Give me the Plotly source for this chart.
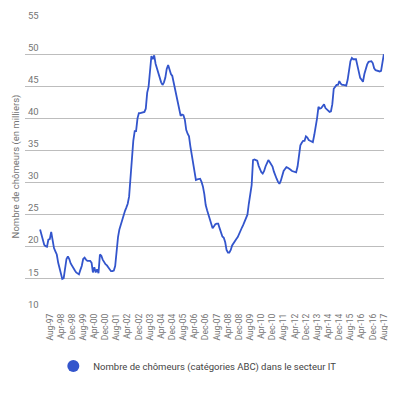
import pandas as pd
import plotly.graph_objects as go

SERIES_NAME = "Nombre de chômeurs (catégories ABC) dans le secteur IT"
Y_TITLE = "Nombre de chômeurs (en milliers)"
START_MONTH = "1997-01-01"

# monthly values (thousands), Jan-97 .. Aug-17
V1997 = [22.7, 22.0, 21.0, 20.3, 20.1, 20.0, 21.1, 21.2, 22.3, 21.0, 19.8, 19.3]
V1998 = [18.8, 17.5, 16.8, 16.0, 15.0, 15.1, 16.8, 18.1, 18.5, 18.1, 17.4, 17.1]
V1999 = [16.8, 16.3, 16.0, 15.8, 15.7, 16.4, 17.0, 18.1, 18.3, 18.0, 17.8, 17.8]
V2000 = [17.8, 17.5, 16.0, 16.8, 16.0, 16.5, 15.9, 18.8, 18.6, 18.0, 17.6, 17.3]
V2001 = [17.1, 16.8, 16.5, 16.2, 16.2, 16.3, 17.0, 19.6, 21.5, 22.7, 23.5, 24.0]
V2002 = [25.0, 25.6, 26.1, 26.7, 27.8, 30.7, 34.0, 36.5, 38.0, 38.0, 40.0, 40.8]
V2003 = [40.8, 40.9, 40.9, 41.0, 41.5, 44.0, 44.9, 47.5, 49.7, 49.2, 49.8, 48.5]
V2004 = [47.7, 46.9, 46.2, 45.6, 45.2, 45.6, 46.3, 47.7, 48.3, 47.6, 46.9, 46.6]
V2005 = [45.5, 44.5, 43.5, 42.6, 41.0, 40.4, 40.6, 40.5, 39.8, 38.2, 37.6, 37.2]
V2006 = [35.6, 34.1, 32.7, 31.6, 30.4, 30.5, 30.6, 30.6, 30.1, 29.4, 28.2, 26.5]
V2007 = [25.7, 24.9, 24.2, 23.6, 22.9, 23.2, 23.5, 23.6, 23.6, 22.9, 22.1, 21.6]
V2008 = [21.4, 20.7, 19.5, 19.1, 19.1, 19.5, 20.2, 20.6, 21.0, 21.2, 21.5, 22.1]
V2009 = [22.6, 23.0, 23.4, 24.0, 24.5, 25.0, 26.7, 28.3, 29.6, 33.5, 33.6, 33.5]
V2010 = [33.4, 32.6, 32.1, 31.6, 31.4, 31.8, 32.5, 33.0, 33.5, 33.2, 32.9, 32.5]
V2011 = [31.7, 31.0, 30.6, 30.1, 29.8, 30.3, 31.1, 31.8, 32.1, 32.4, 32.3, 32.2]
V2012 = [32.0, 31.8, 31.7, 31.6, 31.6, 32.5, 34.5, 35.8, 36.2, 36.5, 36.5, 37.2]
V2013 = [37.0, 36.6, 36.5, 36.4, 36.3, 37.4, 38.6, 40.0, 41.8, 41.5, 41.6, 42.0]
V2014 = [42.2, 41.6, 41.4, 41.3, 41.0, 41.1, 42.2, 44.6, 45.0, 45.2, 45.2, 45.8]
V2015 = [45.4, 45.2, 45.2, 45.2, 45.1, 46.0, 47.6, 48.9, 49.4, 49.2, 49.2, 49.2]
V2016 = [48.2, 47.1, 46.3, 46.0, 45.7, 46.9, 47.9, 48.4, 48.8, 48.8, 48.9, 48.6]
V2017 = [47.8, 47.5, 47.4, 47.4, 47.3, 47.4, 48.9, 50.0]

TICK_LABELS = ["Aug-97", "Apr-98", "Dec-98", "Aug-99", "Apr-00", "Dec-00", "Aug-01",
               "Apr-02", "Dec-02", "Aug-03", "Apr-04", "Dec-04", "Aug-05", "Apr-06",
               "Dec-06", "Aug-07", "Apr-08", "Dec-08", "Aug-09", "Apr-10", "Dec-10",
               "Aug-11", "Apr-12", "Dec-12", "Aug-13", "Apr-14", "Dec-14", "Aug-15",
               "Apr-16", "Dec-16", "Aug-17"]
Y_TICKS = [10, 15, 20, 25, 30, 35, 40, 45, 50, 55]

values = (V1997 + V1998 + V1999 + V2000 + V2001 + V2002 + V2003 + V2004 + V2005 +
          V2006 + V2007 + V2008 + V2009 + V2010 + V2011 + V2012 + V2013 + V2014 +
          V2015 + V2016 + V2017)
months = pd.date_range(START_MONTH, periods=len(values), freq="MS")
tickvals = [pd.to_datetime(t, format="%b-%y") for t in TICK_LABELS]

BLUE = "#3355cc"
GRAY = "#757575"
GRID = "#bdbdbd"
FONT = "Roboto"

fig = go.Figure()
fig.add_trace(go.Scatter(x=months, y=values, mode="lines",
                         line=dict(color=BLUE, width=1.8), showlegend=False,
                         hoverinfo="x+y"))
fig.add_trace(go.Scatter(x=[None], y=[None], mode="markers", name=SERIES_NAME,
                         marker=dict(color=BLUE, size=12, symbol="circle")))

# page body has an 8px default margin; figure sized to fit the 396x393 window
fig.update_layout(
    width=388, height=385,
    margin=dict(l=17, r=12, t=14, b=77),
    paper_bgcolor="white", plot_bgcolor="white",
    font=dict(family=FONT, color=GRAY, size=10),
    xaxis=dict(
        type="date", range=["1996-02-06", "2017-08-04"], automargin=False,
        tickmode="array", tickvals=tickvals, ticktext=TICK_LABELS,
        tickangle=-90, tickfont=dict(size=8.5, color=GRAY),
        showgrid=False, zeroline=False, showline=False, ticks="",
    ),
    yaxis=dict(
        range=[10, 55], tickmode="array", tickvals=Y_TICKS, automargin=False,
        ticklabelposition="inside top", ticklabeloverflow="allow",
        tickfont=dict(size=9.5, color=GRAY),
        showgrid=True, gridcolor=GRID, gridwidth=1,
        zeroline=False, showline=False, ticks="",
        title=dict(text=Y_TITLE, font=dict(size=9.5, color=GRAY), standoff=6),
    ),
    legend=dict(orientation="h", x=0.48, xanchor="center", y=-0.19, yanchor="middle",
                font=dict(size=9.5, color="#444444"), itemsizing="trace"),
    showlegend=True,
)

fig.write_html("out.html", config={"displayModeBar": False})
